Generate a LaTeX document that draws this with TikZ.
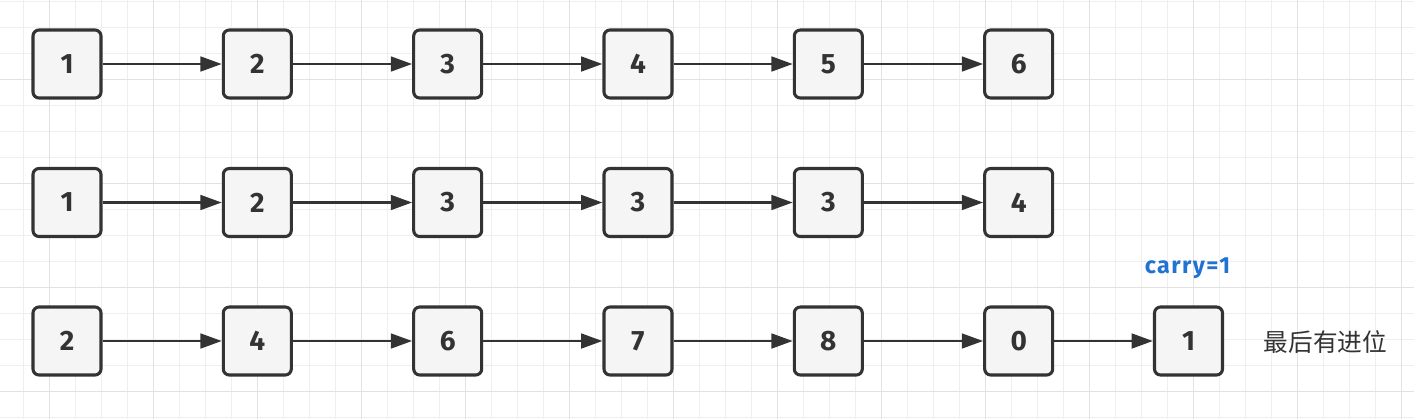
\documentclass[tikz,border=0pt]{standalone}
\usepackage{fontspec}
\setmainfont{Fira Sans}
\newfontfamily\cjk{Noto Sans CJK SC}
\newfontfamily\carryfont{Fira Sans}[LetterSpace=6]
\usetikzlibrary{arrows.meta}
\definecolor{ink}{HTML}{333333}
\definecolor{boxfill}{HTML}{F5F5F5}
\definecolor{gridminor}{HTML}{EFEFEF}
\definecolor{gridmajor}{HTML}{E2E2E2}
\definecolor{carryblue}{HTML}{2272D2}
\tikzset{
  digit/.style={draw=ink, fill=boxfill, line width=2.3pt, rounded corners=4.5pt,
    minimum size=51pt, inner sep=0pt, text=ink, font=\bfseries\fontsize{21}{21}\selectfont},
  link/.style={-{Triangle[length=16pt,width=11pt]}, draw=ink, line width=2pt},
  minor/.style={draw=gridminor, line width=0.75pt},
  major/.style={draw=gridmajor, line width=0.75pt}
}
\begin{document}
\begin{tikzpicture}[x=0.75pt,y=-0.75pt]
      \useasboundingbox (0,0) rectangle (1414,419);
      \fill[white] (0,0) rectangle (1414,419);

      % background grid
      \foreach \i in {0,...,53} \draw[minor] ({23.3+26*\i},0) -- ({23.3+26*\i},419);
      \foreach \j in {0,...,16} \draw[minor] (0,{1.7+26*\j}) -- (1414,{1.7+26*\j});
      \foreach \i in {0,...,13} \draw[major] ({49.3+104*\i},0) -- ({49.3+104*\i},419);
      \foreach \j in {0,...,3} \draw[major] (0,{79.3+104*\j}) -- (1414,{79.3+104*\j});

      % first list
      \node[digit] (a1) at (67,64) {1};
      \node[digit] (a2) at (257.3,64) {2};
      \node[digit] (a3) at (447.7,64) {3};
      \node[digit] (a4) at (638,64) {4};
      \node[digit] (a5) at (828.3,64) {5};
      \node[digit] (a6) at (1018.7,64) {6};
      \draw[link] (a1) -- (a2);
      \draw[link] (a2) -- (a3);
      \draw[link] (a3) -- (a4);
      \draw[link] (a4) -- (a5);
      \draw[link] (a5) -- (a6);

      % second list
      \node[digit] (b1) at (67,202.5) {1};
      \node[digit] (b2) at (257.3,202.5) {2};
      \node[digit] (b3) at (447.7,202.5) {3};
      \node[digit] (b4) at (638,202.5) {3};
      \node[digit] (b5) at (828.3,202.5) {3};
      \node[digit] (b6) at (1018.7,202.5) {4};
      \draw[link] (b1) -- (b2);
      \draw[link] (b2) -- (b3);
      \draw[link] (b3) -- (b4);
      \draw[link] (b4) -- (b5);
      \draw[link] (b5) -- (b6);

      % sum
      \node[digit] (c1) at (67,341) {2};
      \node[digit] (c2) at (257.3,341) {4};
      \node[digit] (c3) at (447.7,341) {6};
      \node[digit] (c4) at (638,341) {7};
      \node[digit] (c5) at (828.3,341) {8};
      \node[digit] (c6) at (1018.7,341) {0};
      \node[digit] (c7) at (1188.5,341) {1};
      \draw[link] (c1) -- (c2);
      \draw[link] (c2) -- (c3);
      \draw[link] (c3) -- (c4);
      \draw[link] (c4) -- (c5);
      \draw[link] (c5) -- (c6);
      \draw[link] (c6) -- (c7);

      \node[text=carryblue, font=\carryfont\bfseries\fontsize{17.5}{17.5}\selectfont] (carry) at (1187.5,268) {carry=1};
      \node[text=ink, font=\cjk\fontsize{18.5}{18.5}\selectfont] (note) at (1325.5,342) {最后有进位};
\end{tikzpicture}
\end{document}
